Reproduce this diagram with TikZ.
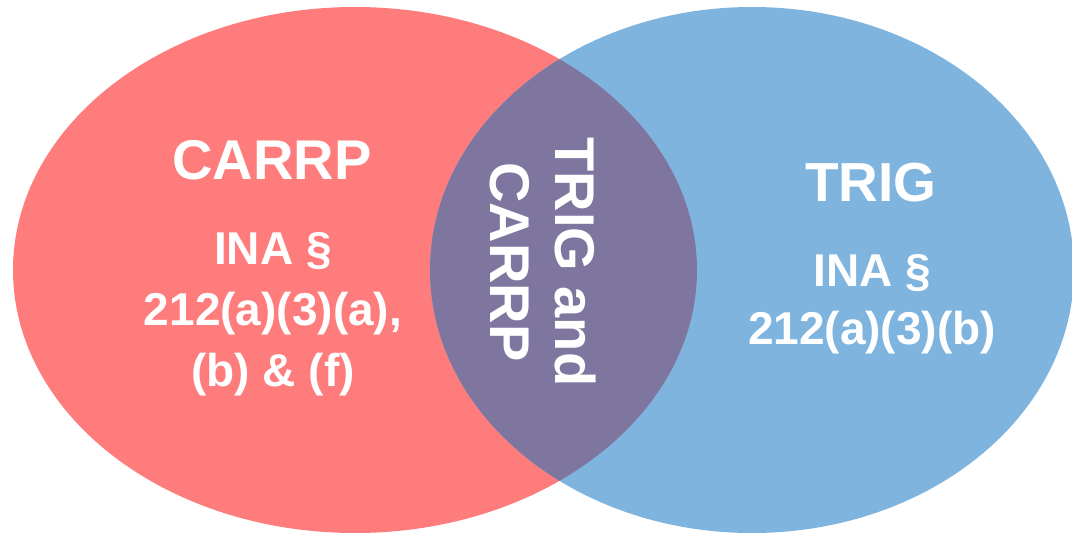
\documentclass[tikz,border=0pt]{standalone}
\usepackage{fontspec}
\setmainfont{Liberation Sans}
\usepackage{tikz}

\definecolor{carrpred}{RGB}{254,124,124}
\definecolor{trigblue}{RGB}{127,180,222}
\definecolor{bothpurple}{RGB}{127,118,160}

\begin{document}
\begin{tikzpicture}[x=1pt, y=-1pt, %%% pixel units, y runs downward
    label/.style={text=white, font=\bfseries, align=center, inner sep=0pt}]
      \useasboundingbox (0,0) rectangle (1072,533);
      %%% the two sets
      \fill[carrpred] (355,270) ellipse (342 and 263);
      \fill[trigblue] (752,270) ellipse (322 and 263);
      \begin{scope} %%% overlap
        \clip (355,270) ellipse (342 and 263);
        \fill[bothpurple] (752,270) ellipse (322 and 263);
      \end{scope}

      \node[label, font=\bfseries\fontsize{56}{65}\selectfont] (carrp) at (272,160) {CARRP};
      \node[label, font=\bfseries\fontsize{46}{61}\selectfont] (carrpsec) at (273,314) {INA §\\212(a)(3)(a),\\(b) \& (f)};

      \node[label, font=\bfseries\fontsize{55}{65}\selectfont] (trig) at (871,183) {TRIG};
      \node[label, font=\bfseries\fontsize{46}{58}\selectfont] (trigsec) at (872,304) {INA §\\212(a)(3)(b)};

      \node[label, rotate=-90, font=\bfseries\fontsize{56}{65}\selectfont] (both) at (543,262) {TRIG and\\CARRP}; %% reads downward
\end{tikzpicture}
\end{document}
